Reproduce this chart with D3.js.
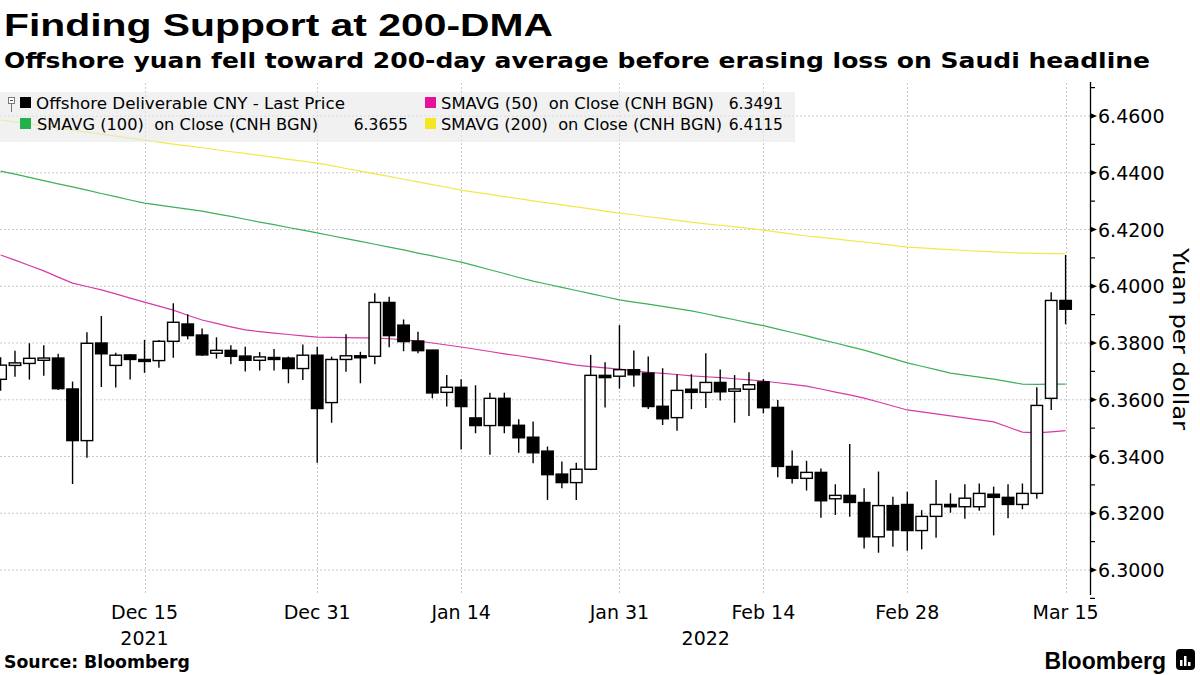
<!DOCTYPE html>
<html><head><meta charset="utf-8">
<script src="https://cdn.jsdelivr.net/npm/d3@7"></script>
<style>
html,body{margin:0;padding:0;background:#fff;}
svg{display:block;}
</style></head>
<body>
<svg id="chart" width="1200" height="675"></svg>
<script>
// ---------- DATA ----------
const dates = ["2021-12-01","2021-12-02","2021-12-03","2021-12-06","2021-12-07","2021-12-08","2021-12-09","2021-12-10","2021-12-13","2021-12-14",
"2021-12-15","2021-12-16","2021-12-17","2021-12-20","2021-12-21","2021-12-22","2021-12-23","2021-12-24","2021-12-27","2021-12-28",
"2021-12-29","2021-12-30","2021-12-31","2022-01-03","2022-01-04","2022-01-05","2022-01-06","2022-01-07","2022-01-10","2022-01-11",
"2022-01-12","2022-01-13","2022-01-14","2022-01-17","2022-01-18","2022-01-19","2022-01-20","2022-01-21","2022-01-24","2022-01-25",
"2022-01-26","2022-01-27","2022-01-28","2022-01-31","2022-02-01","2022-02-02","2022-02-03","2022-02-04","2022-02-07","2022-02-08",
"2022-02-09","2022-02-10","2022-02-11","2022-02-14","2022-02-15","2022-02-16","2022-02-17","2022-02-18","2022-02-21","2022-02-22",
"2022-02-23","2022-02-24","2022-02-25","2022-02-28","2022-03-01","2022-03-02","2022-03-03","2022-03-04","2022-03-07","2022-03-08",
"2022-03-09","2022-03-10","2022-03-11","2022-03-14","2022-03-15"];

const openP = [6.3672,6.3721,6.3728,6.3739,6.3747,6.3638,6.3456,6.3800,6.3721,6.3758,
6.3742,6.3738,6.3806,6.3867,6.3828,6.3764,6.3774,6.3754,6.3739,6.3749,
6.3747,6.3710,6.3757,6.3590,6.3742,6.3755,6.3753,6.3943,6.3863,6.3807,
6.3775,6.3626,6.3644,6.3536,6.3509,6.3605,6.3510,6.3468,6.3419,6.3338,
6.3308,6.3355,6.3686,6.3683,6.3706,6.3694,6.3577,6.3537,6.3637,6.3626,
6.3661,6.3630,6.3637,6.3663,6.3573,6.3365,6.3323,6.3344,6.3251,6.3263,
6.3238,6.3117,6.3227,6.3231,6.3139,6.3189,6.3231,6.3223,6.3223,6.3267,
6.3256,6.3231,6.3270,6.3605,6.3950];
const highP = [6.3750,6.3773,6.3799,6.3792,6.3762,6.3664,6.3838,6.3895,6.3766,6.3760,
6.3811,6.3811,6.3940,6.3901,6.3851,6.3820,6.3792,6.3787,6.3768,6.3779,
6.3752,6.3795,6.3787,6.3752,6.3831,6.3769,6.3975,6.3963,6.3883,6.3840,
6.3776,6.3687,6.3672,6.3651,6.3625,6.3625,6.3531,6.3523,6.3435,6.3382,
6.3378,6.3758,6.3732,6.3863,6.3774,6.3752,6.3711,6.3690,6.3690,6.3764,
6.3707,6.3687,6.3697,6.3673,6.3599,6.3421,6.3385,6.3358,6.3302,6.3444,
6.3288,6.3347,6.3258,6.3276,6.3211,6.3317,6.3270,6.3302,6.3305,6.3294,
6.3302,6.3305,6.3644,6.3979,6.4110];
const lowP = [6.3632,6.3681,6.3671,6.3685,6.3634,6.3303,6.3396,6.3645,6.3643,6.3671,
6.3695,6.3713,6.3748,6.3813,6.3754,6.3745,6.3725,6.3700,6.3703,6.3703,
6.3658,6.3670,6.3378,6.3519,6.3699,6.3658,6.3725,6.3785,6.3771,6.3764,
6.3605,6.3576,6.3425,6.3482,6.3406,6.3482,6.3413,6.3376,6.3247,6.3288,
6.3247,6.3352,6.3573,6.3639,6.3646,6.3567,6.3511,6.3491,6.3567,6.3571,
6.3597,6.3519,6.3543,6.3552,6.3327,6.3305,6.3280,6.3184,6.3194,6.3188,
6.3076,6.3061,6.3082,6.3068,6.3073,6.3114,6.3202,6.3181,6.3209,6.3122,
6.3182,6.3214,6.3251,6.3564,6.3866];
const closeP = [6.3722,6.3730,6.3746,6.3747,6.3639,6.3456,6.3799,6.3762,6.3757,6.3742,
6.3738,6.3806,6.3873,6.3826,6.3758,6.3774,6.3753,6.3739,6.3751,6.3745,
6.3710,6.3757,6.3569,6.3742,6.3755,6.3752,6.3943,6.3826,6.3805,6.3773,
6.3624,6.3644,6.3576,6.3509,6.3605,6.3509,6.3466,6.3413,6.3336,6.3308,
6.3355,6.3686,6.3678,6.3706,6.3688,6.3576,6.3533,6.3633,6.3626,6.3661,
6.3628,6.3638,6.3653,6.3572,6.3365,6.3323,6.3344,6.3244,6.3263,6.3238,
6.3117,6.3227,6.3141,6.3139,6.3189,6.3231,6.3223,6.3253,6.3270,6.3256,
6.3231,6.3270,6.3580,6.3950,6.3919];

const sma50 = [6.4110,6.4092,6.4073,6.4054,6.4032,6.4011,6.3999,6.3987,6.3973,6.3958,
6.3944,6.3930,6.3916,6.3898,6.3881,6.3869,6.3857,6.3846,6.3840,6.3835,
6.3830,6.3825,6.3821,6.3820,6.3819,6.3818,6.3818,6.3815,6.3811,6.3807,
6.3800,6.3793,6.3786,6.3778,6.3770,6.3762,6.3755,6.3747,6.3739,6.3730,
6.3722,6.3717,6.3712,6.3708,6.3702,6.3697,6.3693,6.3689,6.3684,6.3681,
6.3678,6.3674,6.3670,6.3666,6.3660,6.3654,6.3648,6.3638,6.3627,6.3617,
6.3606,6.3592,6.3578,6.3564,6.3557,6.3550,6.3543,6.3536,6.3529,6.3522,
6.3504,6.3486,6.3483,6.3487,6.3491];
const sma100 = [6.4406,6.4395,6.4384,6.4372,6.4361,6.4350,6.4339,6.4327,6.4316,6.4304,
6.4293,6.4286,6.4279,6.4272,6.4265,6.4255,6.4246,6.4236,6.4226,6.4217,
6.4207,6.4198,6.4188,6.4178,6.4168,6.4158,6.4148,6.4138,6.4128,6.4117,
6.4107,6.4096,6.4085,6.4072,6.4058,6.4045,6.4031,6.4018,6.4007,6.3996,
6.3985,6.3974,6.3963,6.3952,6.3944,6.3937,6.3929,6.3921,6.3913,6.3903,
6.3892,6.3882,6.3871,6.3861,6.3849,6.3837,6.3825,6.3812,6.3800,6.3787,
6.3775,6.3760,6.3745,6.3730,6.3718,6.3706,6.3694,6.3687,6.3680,6.3673,
6.3664,6.3655,6.3654,6.3655,6.3655];
const sma200 = [6.4586,6.4579,6.4572,6.4565,6.4558,6.4551,6.4543,6.4536,6.4529,6.4522,
6.4515,6.4508,6.4501,6.4495,6.4488,6.4481,6.4474,6.4468,6.4461,6.4454,
6.4447,6.4441,6.4434,6.4425,6.4415,6.4406,6.4396,6.4387,6.4377,6.4368,
6.4358,6.4349,6.4339,6.4331,6.4324,6.4316,6.4309,6.4301,6.4294,6.4287,
6.4280,6.4273,6.4265,6.4258,6.4252,6.4245,6.4239,6.4232,6.4226,6.4220,
6.4215,6.4209,6.4204,6.4198,6.4191,6.4184,6.4177,6.4172,6.4167,6.4161,
6.4156,6.4150,6.4144,6.4138,6.4135,6.4132,6.4129,6.4126,6.4124,6.4121,
6.4119,6.4117,6.4116,6.4115,6.4115];

const xTickDates = ["2021-12-15","2021-12-31","2022-01-14","2022-01-31","2022-02-14","2022-02-28","2022-03-15"];
const xTickLabels = ["Dec 15","Dec 31","Jan 14","Jan 31","Feb 14","Feb 28","Mar 15"];
const yearDates = ["2021-12-15","2022-02-08"];
const yearTexts = ["2021","2022"];
const yTicks = [6.30,6.32,6.34,6.36,6.38,6.40,6.42,6.44,6.46];
const yMinorTicks = [6.29,6.31,6.33,6.35,6.37,6.39,6.41,6.43,6.45,6.47];
const legendLabels = ["Offshore Deliverable CNY - Last Price","SMAVG (50)  on Close (CNH BGN)","SMAVG (100)  on Close (CNH BGN)","SMAVG (200)  on Close (CNH BGN)"];
const legendValues = ["","6.3491","6.3655","6.4115"];
const legendColors = ["#000000","#e5139b","#23b14d","#f5e625"];
const lineColors = {sma50:"#d63aa5", sma100:"#3cb05a", sma200:"#f2e84a"};

// ---------- LAYOUT ----------
const svg = d3.select("#chart");
const plotLeft = 0, plotRight = 1090, plotTop = 83, plotBottom = 595;

const x = d3.scaleLinear().domain([0, dates.length - 1]).range([0.6, 1065.6]);
const y = d3.scaleLinear().domain([6.30, 6.46]).range([570, 116]);
const idx = d => dates.indexOf(d);

// Title
svg.append("text").attr("x", 4).attr("y", 36)
  .attr("font-family", "Liberation Sans, Arial, sans-serif").attr("font-weight", "bold")
  .attr("font-size", 32).attr("fill", "#000")
  .attr("textLength", 549).attr("lengthAdjust", "spacingAndGlyphs")
  .text("Finding Support at 200-DMA");
svg.append("text").attr("x", 4).attr("y", 68)
  .attr("font-family", "DejaVu Sans, sans-serif").attr("font-weight", "bold")
  .attr("font-size", 21).attr("fill", "#000")
  .attr("textLength", 1146).attr("lengthAdjust", "spacingAndGlyphs")
  .text("Offshore yuan fell toward 200-day average before erasing loss on Saudi headline");

// clip
svg.append("defs").append("clipPath").attr("id", "plotclip")
  .append("rect").attr("x", plotLeft).attr("y", plotTop).attr("width", plotRight - plotLeft).attr("height", plotBottom - plotTop);

// Gridlines
const grid = svg.append("g");
grid.selectAll("line.h").data(yTicks).join("line").attr("class", "h")
  .attr("x1", plotLeft).attr("x2", plotRight)
  .attr("y1", d => y(d)).attr("y2", d => y(d))
  .attr("stroke", "#c8c8c8").attr("stroke-width", 1).attr("stroke-dasharray", "2,2");
grid.selectAll("line.v").data(xTickDates).join("line").attr("class", "v")
  .attr("x1", d => Math.round(x(idx(d))) + 0.5).attr("x2", d => Math.round(x(idx(d))) + 0.5)
  .attr("y1", plotTop).attr("y2", plotBottom)
  .attr("stroke", "#c8c8c8").attr("stroke-width", 1).attr("stroke-dasharray", "2,2");

// Moving averages
const plot = svg.append("g").attr("clip-path", "url(#plotclip)");
const lineGen = arr => d3.line().x((d, i) => x(i)).y(d => y(d))(arr);
[["sma200", sma200], ["sma100", sma100], ["sma50", sma50]].forEach(([k, arr]) => {
  plot.append("path").attr("d", lineGen(arr)).attr("fill", "none")
    .attr("stroke", lineColors[k]).attr("stroke-width", 1.2);
});

// Candles
const bw = 11.5;
const candles = plot.selectAll("g.c").data(dates.map((d, i) => ({i, o: openP[i], h: highP[i], l: lowP[i], c: closeP[i]})))
  .join("g").attr("class", "c");
candles.append("line")
  .attr("x1", d => x(d.i)).attr("x2", d => x(d.i))
  .attr("y1", d => y(d.h)).attr("y2", d => y(d.l))
  .attr("stroke", "#000").attr("stroke-width", 1.4);
candles.append("rect")
  .attr("x", d => x(d.i) - bw / 2).attr("width", bw)
  .attr("y", d => y(Math.max(d.o, d.c)))
  .attr("height", d => Math.max(2, Math.abs(y(d.o) - y(d.c))))
  .attr("fill", d => d.c >= d.o ? "#fff" : "#000")
  .attr("stroke", "#000").attr("stroke-width", 1.4);

// Legend
const lg = svg.append("g");
lg.append("rect").attr("x", 0).attr("y", 92).attr("width", 795).attr("height", 50)
  .attr("fill", "#e9e9e9").attr("opacity", 0.62);
// tree icon
lg.append("rect").attr("x", 8.5).attr("y", 97.5).attr("width", 6).attr("height", 6).attr("fill", "#fff").attr("stroke", "#777").attr("stroke-width", 1);
lg.append("line").attr("x1", 10).attr("x2", 13).attr("y1", 100.5).attr("y2", 100.5).attr("stroke", "#555");
lg.append("line").attr("x1", 11.5).attr("x2", 11.5).attr("y1", 104).attr("y2", 112).attr("stroke", "#777");
const legPos = [
  {sx: 20, sy: 97, tx: 36, ty: 109, tl: 309, vx: null},
  {sx: 425, sy: 97, tx: 441, ty: 109, tl: 273, vx: 783},
  {sx: 20, sy: 118, tx: 37, ty: 130, tl: 281, vx: 408},
  {sx: 425, sy: 118, tx: 441, ty: 130, tl: 281, vx: 783}
];
legendLabels.forEach((label, k) => {
  const p = legPos[k];
  lg.append("rect").attr("x", p.sx).attr("y", p.sy).attr("width", 11).attr("height", 11).attr("fill", legendColors[k]);
  lg.append("text").attr("x", p.tx).attr("y", p.ty)
    .attr("font-family", "DejaVu Sans, sans-serif").attr("font-size", 15.5).attr("fill", "#000")
    .attr("textLength", p.tl).attr("lengthAdjust", "spacingAndGlyphs")
    .style("white-space", "pre")
    .text(label);
  if (legendValues[k]) {
    lg.append("text").attr("x", p.vx).attr("y", p.ty).attr("text-anchor", "end")
      .attr("font-family", "DejaVu Sans, sans-serif").attr("font-size", 15.5).attr("fill", "#000")
      .text(legendValues[k]);
  }
});

// Y axis (right)
const ax = svg.append("g");
ax.append("line").attr("x1", plotRight + 0.5).attr("x2", plotRight + 0.5).attr("y1", 82).attr("y2", plotBottom)
  .attr("stroke", "#000").attr("stroke-width", 1.3);
ax.selectAll("path.tri").data(yTicks).join("path").attr("class", "tri")
  .attr("d", d => `M${plotRight},${y(d) - 3}L${plotRight + 7},${y(d)}L${plotRight},${y(d) + 3}Z`)
  .attr("fill", "#000");
ax.selectAll("line.mt").data(yMinorTicks).join("line").attr("class", "mt")
  .attr("x1", plotRight).attr("x2", plotRight + 5)
  .attr("y1", d => y(d)).attr("y2", d => y(d))
  .attr("stroke", "#000").attr("stroke-width", 1.2);
ax.selectAll("text.yl").data(yTicks).join("text").attr("class", "yl")
  .attr("x", plotRight + 8).attr("y", d => y(d) + 7)
  .attr("font-family", "DejaVu Sans, sans-serif").attr("font-size", 19).attr("fill", "#000")
  .text(d => d3.format(".4f")(d));
svg.append("text").attr("transform", "translate(1173,339) rotate(90)")
  .attr("text-anchor", "middle")
  .attr("font-family", "DejaVu Sans, sans-serif").attr("font-size", 22).attr("fill", "#000")
  .attr("textLength", 182).attr("lengthAdjust", "spacingAndGlyphs")
  .text("Yuan per dollar");

// X labels
svg.selectAll("text.xl").data(xTickDates).join("text").attr("class", "xl")
  .attr("x", d => x(idx(d))).attr("y", 619).attr("text-anchor", "middle")
  .attr("font-family", "DejaVu Sans, sans-serif").attr("font-size", 19).attr("fill", "#000")
  .text((d, i) => xTickLabels[i]);
svg.selectAll("text.yr").data(yearDates).join("text").attr("class", "yr")
  .attr("x", d => x(idx(d))).attr("y", 645).attr("text-anchor", "middle")
  .attr("font-family", "DejaVu Sans, sans-serif").attr("font-size", 19).attr("fill", "#000")
  .text((d, i) => yearTexts[i]);

// Footer
svg.append("text").attr("x", 4).attr("y", 668)
  .attr("font-family", "DejaVu Sans, sans-serif").attr("font-weight", "bold").attr("font-size", 17)
  .attr("textLength", 186).attr("lengthAdjust", "spacingAndGlyphs")
  .text("Source: Bloomberg");
svg.append("text").attr("x", 1166).attr("y", 669).attr("text-anchor", "end")
  .attr("font-family", "Liberation Sans, Arial, sans-serif").attr("font-weight", "bold").attr("font-size", 23)
  .text("Bloomberg");
const logo = svg.append("g");
logo.append("rect").attr("x", 1176).attr("y", 649).attr("width", 19).attr("height", 21).attr("rx", 4).attr("fill", "#000");
logo.selectAll("rect.b").data([[1180,6],[1184,10],[1188,4]]).join("rect").attr("class", "b")
  .attr("x", d => d[0]).attr("width", 2.5).attr("y", d => 666 - d[1]).attr("height", d => d[1]).attr("fill", "#fff");
</script>
</body></html>
